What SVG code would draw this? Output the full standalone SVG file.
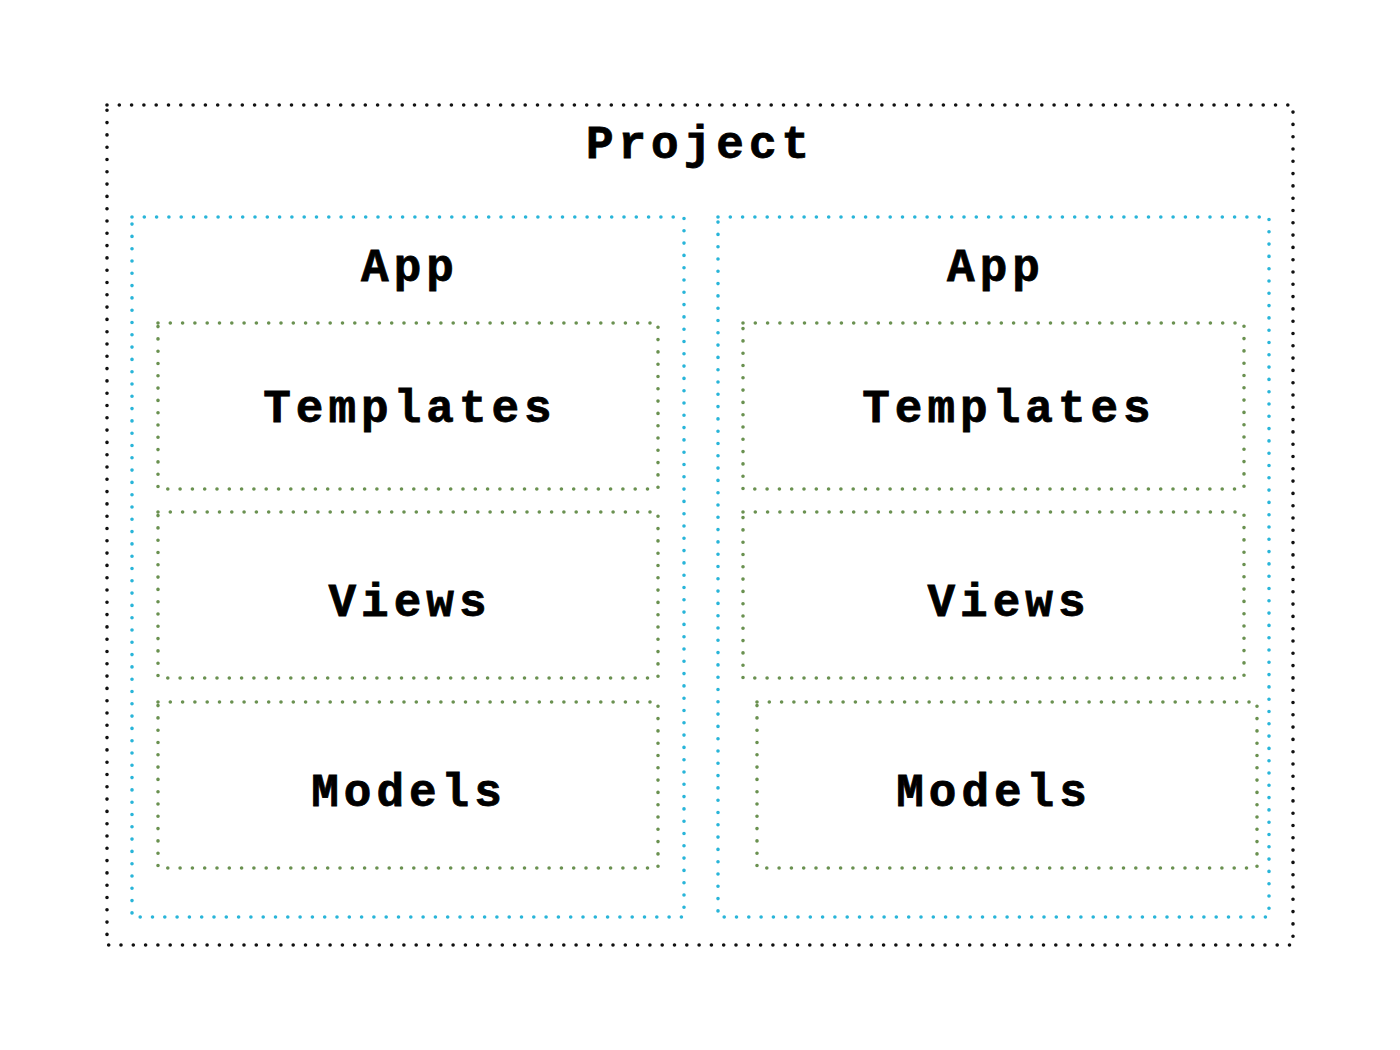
<svg xmlns="http://www.w3.org/2000/svg" width="1400" height="1050" viewBox="0 0 1400 1050">
<style>
.box{fill:none;stroke-width:3.6;stroke-linecap:round;stroke-dasharray:0 12.3}
.proj{stroke:#111}
.app{stroke:#29b5d9}
.mod{stroke:#6a9150}
.t{font-family:"Liberation Mono","Courier New",monospace;font-weight:bold;font-size:46px;letter-spacing:5px;fill:#000;text-anchor:middle;stroke:#000;stroke-width:0.8}
</style>
<rect width="1400" height="1050" fill="#fff"/>
<g id="project">
<rect class="box proj" x="107" y="105" width="1186" height="840"/>
<text class="t" x="700" y="158">Project</text>
</g>
<g id="app-left">
<rect class="box app" x="132" y="217" width="552" height="700"/>
<text class="t" x="410" y="281">App</text>
</g>
<g id="app-right">
<rect class="box app" x="718" y="217" width="551" height="700"/>
<text class="t" x="996" y="281">App</text>
</g>
<g id="templates-left">
<rect class="box mod" x="158" y="323" width="500" height="166"/>
<text class="t" x="410" y="422">Templates</text>
</g>
<g id="views-left">
<rect class="box mod" x="158" y="512" width="500" height="166"/>
<text class="t" x="410" y="616">Views</text>
</g>
<g id="models-left">
<rect class="box mod" x="158" y="702" width="500" height="166"/>
<text class="t" x="409" y="806">Models</text>
</g>
<g id="templates-right">
<rect class="box mod" x="743" y="323" width="501" height="166"/>
<text class="t" x="1009" y="422">Templates</text>
</g>
<g id="views-right">
<rect class="box mod" x="743" y="512" width="501" height="166"/>
<text class="t" x="1009" y="616">Views</text>
</g>
<g id="models-right">
<rect class="box mod" x="757" y="702" width="500" height="166"/>
<text class="t" x="994" y="806">Models</text>
</g>
<g id="connectors"></g>
</svg>
